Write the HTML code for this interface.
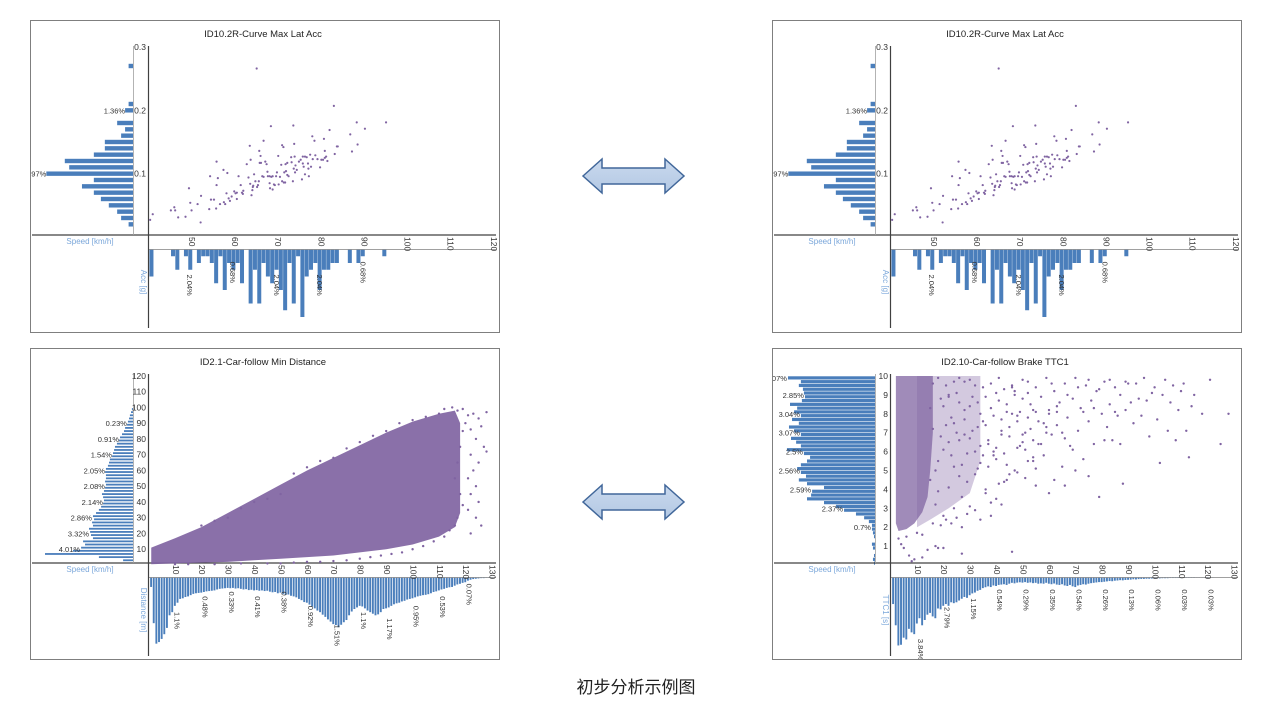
<!DOCTYPE html>
<html><head><meta charset="utf-8">
<style>
html,body{margin:0;padding:0;background:#fff;}
svg{display:block;font-family:"Liberation Sans","Noto Sans CJK SC",sans-serif;}
</style></head>
<body>
<svg id="root" width="1267" height="711" viewBox="0 0 1267 711" xmlns="http://www.w3.org/2000/svg">
<defs>
<clipPath id="c1"><rect x="30.5" y="20.5" width="469" height="312"/></clipPath>
<clipPath id="c2"><rect x="772.5" y="20.5" width="469" height="312"/></clipPath>
<clipPath id="c3"><rect x="30.5" y="348.5" width="469" height="311"/></clipPath>
<clipPath id="c4"><rect x="772.5" y="348.5" width="469" height="311"/></clipPath>
<linearGradient id="ag" x1="0" y1="0" x2="0" y2="1"><stop offset="0" stop-color="#c9d9ee"/><stop offset="1" stop-color="#b3c8e3"/></linearGradient>
</defs>
<polygon points="583,176 602,159 602,168 665,168 665,159 684,176 665,193 665,184 602,184 602,193" fill="url(#ag)" stroke="#41679a" stroke-width="1.5"/>
<polygon points="583,502 602,485 602,494 665,494 665,485 684,502 665,519 665,510 602,510 602,519" fill="url(#ag)" stroke="#41679a" stroke-width="1.5"/>
<text x="636" y="693" text-anchor="middle" font-size="17" fill="#222" font-family="'Noto Sans CJK SC',sans-serif">初步分析示例图</text>
</svg>
<script>
// ===== Curve Max Lat Acc (top panels) =====
const accSpeed=[40.5,41.1,45.3,46.1,46.3,47.0,48.7,49.5,49.8,50.1,51.5,52.2,52.3,54.2,54.4,54.6,55.3,55.9,55.8,55.9,56.2,56.7,57.5,57.6,57.9,58.2,58.4,58.7,59.0,59.4,60.0,60.3,60.6,60.6,61.0,61.5,61.8,62.0,62.1,62.9,63.3,63.6,63.7,63.8,64.0,64.2,64.3,64.4,64.6,64.9,65.2,65.3,65.5,65.7,65.8,65.9,66.1,66.2,66.5,66.8,66.8,67.2,67.5,67.7,67.8,68.2,68.2,68.3,68.5,68.6,68.9,68.9,69.2,69.4,69.7,69.9,70.2,70.3,70.6,70.9,71.1,71.1,71.4,71.5,71.6,71.8,71.9,72.0,72.3,72.3,72.6,73.2,73.3,73.6,73.7,73.8,73.9,74.0,74.1,74.2,74.5,75.0,75.4,75.7,75.9,75.9,76.1,76.4,76.4,76.8,77.1,77.2,77.3,77.6,77.8,78.1,78.2,78.6,78.8,79.3,79.9,80.2,80.6,80.8,81.0,81.0,81.3,81.6,82.1,83.1,83.3,83.8,84.0,86.9,87.3,88.4,88.6,90.3,95.2];
const accG=[.027,.036,.042,.047,.042,.031,.032,.077,.054,.042,.052,.023,.065,.044,.096,.059,.059,.082,.045,.119,.093,.052,.106,.055,.052,.069,.101,.061,.057,.064,.072,.069,.060,.070,.096,.082,.070,.068,.073,.115,.094,.144,.084,.122,.066,.074,.079,.081,.099,.088,.266,.079,.082,.088,.136,.117,.128,.117,.096,.152,.095,.119,.115,.103,.096,.085,.096,.077,.175,.095,.096,.075,.083,.082,.096,.102,.128,.083,.095,.114,.145,.088,.142,.086,.102,.086,.115,.104,.117,.098,.096,.126,.118,.088,.176,.108,.147,.127,.102,.113,.106,.119,.122,.091,.127,.116,.111,.099,.127,.126,.116,.108,.096,.130,.111,.159,.123,.152,.129,.123,.110,.122,.122,.155,.136,.125,.127,.120,.169,.207,.131,.143,.143,.162,.135,.181,.146,.171,.181];
const accBins=[0.02,0.03,0.04,0.05,0.06,0.07,0.08,0.09,0.10,0.11,0.12,0.13,0.14,0.15,0.16,0.17,0.18,0.19,0.20,0.21,0.27];
const accBinPct=[0.10,0.27,0.36,0.55,0.73,0.89,1.16,0.89,1.97,1.45,1.55,0.89,0.64,0.64,0.27,0.18,0.36,0,0.18,0.10,0.10];
const accLeftLabels=[["1.36%",0.20],["1.97%",0.10]];
const spdBins=[40,45,46,48,49,51,52,53,54,55,56,57,58,59,60,61,63,64,65,66,67,68,69,70,71,72,73,74,75,76,77,78,79,80,81,82,83,86,88,89,94];
const spdCounts=[4,1,3,1,3,2,1,1,2,5,1,6,2,3,2,5,8,3,8,2,4,5,3,6,9,2,8,1,10,4,3,2,6,3,3,2,2,2,2,1,1];
const spdLabels=[["2.04%",49.5,3.4],["0.68%",59.5,1.5],["2.04%",69.7,3.4],["2.04%",79.7,3.4],["0.68%",89.7,1.5]];
const accXTicks=[50,60,70,80,90,100,110,120];
const accYTicks=[0.1,0.2,0.3];

// ===== Car-follow Min Distance (bottom-left) =====
const distEnvX=[1,10,20,30,40,50,60,70,80,90,100,110,116,118];
const distEnvHi=[11,17,24,33,42,51,60,68,76,84,91,96,98,90];
const distEnvLo=[0.5,1,1.5,2,3,4,5,6,8,10,13,18,24,33];
const distPtX=[115,117,119,121,120,122,123,124,125,126,127,128,122,125,123,121,124,122,125,121,124,126,122,128,119,118,117,116,118,119,117,116,114,112,108,104,100,96,92,88,84,80,75,70,65,60,55,50,45,35,25,15,10,50,45,40,30,35,20,25,60,55,70,65,75,80,85,90,95,100,105,110,112];
const distPtY=[100,98,99,95,90,86,96,80,93,88,75,97,70,65,60,55,50,45,40,35,30,25,20,72,85,75,65,55,45,38,30,25,22,18,15,12,10,8,7,6,5,4,3,2.5,2,2,1.5,1,1,1,0.5,0.5,0.5,45,42,40,30,36,25,28,62,58,68,66,74,78,82,85,90,92,94,96,99];
const distBinPct=[0,0.45,1.55,4.0,2.73,2.36,2.18,2.27,1.82,1.91,1.95,2.0,1.82,1.86,1.77,1.82,1.68,1.55,1.45,1.36,1.32,1.36,1.41,1.32,1.27,1.23,1.27,1.23,1.23,1.27,1.23,1.14,1.09,1.05,0.95,0.91,0.86,0.82,0.73,0.64,0.59,0.5,0.41,0.36,0.27,0.23,0.18,0.14,0.09,0.05];
const distLeftLabels=[["0.01%",100],["0.23%",90],["0.91%",80],["1.54%",70],["2.05%",60],["2.08%",50],["2.14%",40],["2.86%",30],["3.32%",20],["4.01%",10]];
const distSpdPct=[0.3,1.45,2.1,2.05,1.95,1.8,1.6,1.2,1.1,0.9,0.8,0.68,0.66,0.62,0.6,0.56,0.52,0.5,0.49,0.48,0.46,0.44,0.43,0.42,0.41,0.38,0.36,0.35,0.34,0.33,0.34,0.33,0.35,0.34,0.36,0.38,0.37,0.4,0.39,0.41,0.4,0.42,0.41,0.43,0.42,0.45,0.47,0.46,0.5,0.48,0.52,0.55,0.54,0.58,0.6,0.63,0.68,0.72,0.78,0.8,0.86,0.92,0.98,1.05,1.1,1.18,1.25,1.33,1.4,1.48,1.51,1.58,1.5,1.42,1.35,1.2,1.08,1.0,0.95,0.9,0.92,0.98,1.05,1.1,1.15,1.2,1.17,1.1,1.0,0.98,0.95,0.9,0.85,0.82,0.8,0.76,0.74,0.7,0.68,0.66,0.63,0.6,0.58,0.56,0.55,0.53,0.5,0.46,0.44,0.41,0.38,0.36,0.33,0.31,0.3,0.26,0.22,0.2,0.17,0.15,0.1,0.07,0.05,0.04,0.03,0.02,0.02,0.01,0.01,0.01];
const distSpdLabels=[["1.1%",9.5,1.0],["0.48%",20,0.5],["0.33%",30,0.35],["0.41%",40,0.5],["0.38%",50,0.35],["0.92%",60,0.8],["1.51%",70,1.4],["1.1%",80,1.0],["1.17%",90,1.2],["0.95%",100,0.8],["0.53%",110,0.5],["0.07%",120,0.1]];
const distYTicks=[10,20,30,40,50,60,70,80,90,100,110,120];
const bottomXTicks=[10,20,30,40,50,60,70,80,90,100,110,120,130];

// ===== Car-follow Brake TTC1 (bottom-right) =====
const ttcCoreX=[2,3,6,9,12,14,15,16,16,14,2];
const ttcCoreY=[2.2,1.8,1.9,2.2,2.8,3.6,5.0,7.0,10,10,10];
const ttcBandX=[10,15,22,30,34,34,30,10];
const ttcBandY=[2.0,2.4,3.0,3.8,5.5,10,10,10];
const ttcPtX=[15,16,17,18,19,20,21,22,23,24,25,26,27,28,29,30,31,32,33,34,35,16,17,18,19,20,21,22,23,24,25,26,27,28,29,30,31,32,33,34,35,15,16,18,20,22,24,26,28,30,32,34,17,19,21,23,25,27,29,14,18,20,12,27,22,24,26,28,30,33,35,36,37,38,39,40,41,42,43,44,45,46,47,48,49,50,51,52,53,54,55,56,57,58,59,60,61,62,63,64,65,66,67,68,69,70,71,72,73,74,75,76,77,78,79,80,81,82,83,84,85,86,87,88,89,90,92,94,96,98,100,102,104,106,108,110,112,113,115,118,121,125,128,40,45,50,55,60,62,66,70,75,42,36,38,34,32,41,44,46,48,52,54,57,59,61,63,65,67,69,71,73,75,77,79,81,83,85,87,89,91,93,95,97,99,101,103,105,107,109,111,114,3,5,7,9,4,6,8,10,12,36,37,38,39,40,41,42,43,44,45,46,47,48,49,50,51,52,53,54,55,36,38,40,42,44,46,48,50,52,54,56,58,60,37,39,43,47,51,55,59,63,66];
const ttcPtY=[4.5,7.2,3.2,5.5,8.8,6.1,9.5,4.1,7.8,5.2,9.1,6.6,3.6,8.2,5.9,9.8,7.1,4.8,8.6,6.3,9.4,9.6,5.0,3.9,6.8,2.6,7.4,8.9,5.8,3.0,7.0,8.6,5.3,9.7,4.4,6.7,8.9,6.0,5.1,8.0,7.6,8.3,2.2,9.9,8.4,6.5,9.7,4.7,6.9,3.1,9.5,5.4,1.0,2.1,2.4,2.2,2.5,2.0,2.7,0.8,0.9,0.9,0.4,0.6,9.0,7.5,9.9,7.7,8.4,7.3,5.8,8.9,6.4,9.6,7.9,5.6,8.7,6.9,9.3,4.5,7.3,0.7,9.0,6.2,8.1,9.8,7.0,5.5,8.5,6.6,9.4,7.6,8.9,5.8,9.9,8.0,6.9,9.2,7.4,8.6,5.2,9.6,7.8,6.3,8.8,9.9,7.1,8.3,5.6,9.5,7.6,8.7,6.4,9.2,3.6,8.0,9.7,7.3,8.5,6.6,9.4,7.9,9.0,4.3,8.2,9.6,7.5,8.8,9.9,6.8,9.4,5.4,9.8,8.6,6.6,9.2,7.1,5.7,9.0,8.0,9.8,6.4,8.0,3.5,4.8,6.5,4.2,3.8,4.5,4.2,5.0,4.7,3.2,3.8,2.6,2.4,2.9,9.9,8.1,9.4,7.6,9.1,8.2,6.4,7.3,9.6,8.1,7.0,9.0,6.1,9.4,8.1,9.8,8.3,9.3,6.6,9.8,8.1,6.4,9.7,8.6,9.6,7.9,8.7,9.1,7.7,9.0,7.1,9.5,8.2,9.6,8.4,1.4,0.9,0.5,0.3,1.1,1.5,0.2,1.7,1.6,7.4,5.2,8.3,6.0,9.1,4.3,7.7,5.9,8.5,6.8,9.5,5.0,7.9,6.3,8.8,4.6,9.7,7.2,5.5,8.1,4.0,3.3,6.2,7.1,5.3,8.0,4.9,6.9,7.8,5.7,6.4,7.5,8.2,6.6,5.8,4.4,9.2,6.1,5.1,7.0,8.4,6.7,5.9];
const ttcBinPct=[2.56,2.18,2.24,2.12,2.09,2.06,2.15,2.5,2.29,2.38,2.18,2.44,2.24,2.53,2.38,2.18,2.47,2.32,2.18,2.59,2.09,1.91,2.0,2.18,2.29,2.18,2.03,2.24,2.0,1.5,1.85,1.88,2.0,1.5,1.15,0.91,0.56,0.32,0.18,0.09,0.09,0.06,0.03,0,0.09,0.06,0,0.03,0.06,0.03];
const ttcLeftLabels=[["3.07%",9.9],["2.85%",9.0],["3.04%",8.0],["3.07%",7.0],["2.5%",6.0],["2.56%",5.0],["2.59%",4.0],["2.37%",3.0],["0.7%",2.0]];
const ttcSpdPct=[1.5,2.7,3.84,3.8,3.4,3.5,2.9,3.1,3.2,2.6,2.3,2.7,2.4,2.1,2.0,2.2,2.3,1.75,1.8,1.6,1.5,1.6,1.4,1.45,1.4,1.3,1.2,1.1,1.15,1.0,0.9,0.85,0.75,0.7,0.6,0.55,0.5,0.54,0.45,0.48,0.42,0.4,0.38,0.42,0.35,0.3,0.33,0.29,0.27,0.29,0.26,0.3,0.28,0.32,0.3,0.35,0.33,0.35,0.3,0.35,0.38,0.34,0.4,0.42,0.38,0.45,0.48,0.42,0.5,0.54,0.45,0.42,0.38,0.4,0.35,0.32,0.3,0.28,0.26,0.26,0.24,0.22,0.2,0.21,0.18,0.17,0.15,0.16,0.14,0.13,0.12,0.1,0.11,0.09,0.08,0.08,0.07,0.07,0.06,0.06,0.05,0.05,0.04,0.04,0.04,0.03,0.03,0.03,0.03,0.03,0.02,0.02,0.02,0.02,0.02,0.01,0.01,0.01,0.01,0.03,0.01,0.01];
const ttcSpdLabels=[["3.84%",10,3.3],["2.79%",20,1.5],["1.15%",30,1.0],["0.54%",40,0.5],["0.29%",50,0.5],["0.35%",60,0.5],["0.54%",70,0.5],["0.26%",80,0.5],["0.13%",90,0.5],["0.06%",100,0.5],["0.03%",110,0.5],["0.03%",120,0.5]];
const ttcYTicks=[1,2,3,4,5,6,7,8,9,10];

const NS="http://www.w3.org/2000/svg";
const root=document.getElementById('root');
const PURPLE="#8064A2", BLUE="#4A7EBB", TITLEBLUE="#7BA7DA";
function lin(d0,d1,p0,p1){return v=>p0+(v-d0)*(p1-p0)/(d1-d0);}
function mk(parent,tag,attrs,txt){const e=document.createElementNS(NS,tag);for(const k in attrs)e.setAttribute(k,attrs[k]);if(txt!==undefined)e.textContent=txt;parent.appendChild(e);return e;}

function frame(ox,oy,h,clip,title,name){
  const g=mk(root,'g',{'clip-path':'url(#'+clip+')'});
  
  
  const r=mk(g,'rect',{x:ox+0.5,y:oy+0.5,width:469,height:h,fill:'#fff'});
  
  
  const t=mk(g,'text',{x:ox+233,y:oy+17,'text-anchor':'middle','font-size':9.5,fill:'#222'},title);
  
  
  return g;
}
function border(ox,oy,h){
  const b=mk(root,'rect',{x:ox+0.5,y:oy+0.5,width:469,height:h,fill:'none',stroke:'#7f7f7f','stroke-width':1});
  
  
}
function axes(g,ox,oy,yTitle){
  const a=mk(g,'line',{x1:ox+2,y1:oy+215,x2:ox+466,y2:oy+215,stroke:'#404040','stroke-width':1.3});
  
  
  const a2=mk(g,'line',{x1:ox+118,y1:oy+229.5,x2:ox+466,y2:oy+229.5,stroke:'#808080','stroke-width':0.8});
  
  
  const v=mk(g,'line',{x1:ox+118.5,y1:oy+26,x2:ox+118.5,y2:oy+308,stroke:'#404040','stroke-width':1.2});
  
  
  const v2=mk(g,'line',{x1:ox+103.5,y1:oy+26,x2:ox+103.5,y2:oy+215,stroke:'#a0a0a0','stroke-width':0.8});
  
  
  const st=mk(g,'text',{x:ox+60,y:oy+224,'text-anchor':'middle','font-size':8,fill:TITLEBLUE},'Speed [km/h]');
  
  
  const yt=mk(g,'text',{x:0,y:0,'text-anchor':'middle','font-size':8,fill:TITLEBLUE,transform:'translate('+(ox+111)+','+(oy+262)+') rotate(90)'},yTitle);
  
  
}
function xTicks(g,ticks,xS,oy){
  ticks.forEach(t=>{const e=mk(g,'text',{x:0,y:0,'font-size':8.5,fill:'#333','dominant-baseline':'middle',transform:'translate('+xS(t)+','+(oy+217)+') rotate(90)'},String(t));
    
    });
}
function yTicks(g,ticks,yS,ox){
  ticks.forEach(t=>{const e=mk(g,'text',{x:ox+116,y:yS(t)+3,'text-anchor':'end','font-size':8.5,fill:'#333'},String(t));
    
    });
}
function dots(g,xs,ys,xS,yS,r){
  for(let i=0;i<xs.length;i++){const c=mk(g,'circle',{cx:xS(xs[i]),cy:yS(ys[i]),r:r,fill:PURPLE});
    
    }
}
function rotLabel(g,txt,x,y){
  const e=mk(g,'text',{x:0,y:0,'font-size':7.5,fill:'#333','dominant-baseline':'middle',transform:'translate('+x+','+y+') rotate(90)'},txt);
  
  
}
function leftLabel(g,txt,x,y){
  const e=mk(g,'text',{x:x,y:y+3,'text-anchor':'end','font-size':7.5,fill:'#333'},txt);
  
  
}

function accPanel(ox,oy,clip,name){
  const g=frame(ox,oy,312,clip,'ID10.2R-Curve Max Lat Acc',name);
  const xS=lin(40,120,ox+118,ox+463), yS=lin(0,0.3,oy+217,oy+27);
  accBins.forEach((b,i)=>{const w=accBinPct[i]*44;if(w<=0)return;
    const r=mk(g,'rect',{x:ox+103-w,y:yS(b)-2.2,width:w,height:4.4,fill:BLUE});
    
    });
  spdBins.forEach((s,i)=>{const r=mk(g,'rect',{x:xS(s+0.8)-2,y:oy+229.5,width:4,height:spdCounts[i]*6.75,fill:BLUE});
    
    });
  axes(g,ox,oy,'Acc [g]');
  xTicks(g,accXTicks,xS,oy);
  yTicks(g,accYTicks,yS,ox);
  accLeftLabels.forEach(l=>{const i=accBins.indexOf(l[1]);leftLabel(g,l[0],ox+103-accBinPct[i]*44,yS(l[1]));});
  spdLabels.forEach(l=>rotLabel(g,l[0],xS(l[1]),oy+229.5+l[2]*6.75+2));
  dots(g,accSpeed,accG,xS,yS,1.1);
  border(ox,oy,312);
}
accPanel(30,20,'c1','chart-curve-max-lat-acc-left');
accPanel(772,20,'c2','chart-curve-max-lat-acc-right');

(function(){
  const ox=30,oy=348;
  const g=frame(ox,oy,311,'c3','ID2.1-Car-follow Min Distance','chart-car-follow-min-distance');
  const xS=lin(0,10,ox+118.6,ox+145), yS=lin(0,120,oy+217,oy+27.9);
  distBinPct.forEach((v,i)=>{const w=v*22;if(w<=0)return;const c=1+2*i;
    const r=mk(g,'rect',{x:ox+103-w,y:yS(c)-0.9,width:w,height:1.8,fill:BLUE});
    
    });
  distSpdPct.forEach((v,i)=>{const r=mk(g,'rect',{x:xS(i+1)-1.1,y:oy+229.5,width:1.9,height:v*31.5,fill:BLUE});
    
    });
  axes(g,ox,oy,'Distance [m]');
  xTicks(g,bottomXTicks,xS,oy);
  yTicks(g,distYTicks,yS,ox);
  distLeftLabels.forEach(l=>leftLabel(g,l[0],ox+103-distBinPct[Math.round((l[1]-1)/2)]*22-1,yS(l[1])));
  distSpdLabels.forEach(l=>rotLabel(g,l[0],xS(l[1])+3,oy+229.5+l[2]*31.5+3));
  let pts=distEnvX.map((x,i)=>xS(x)+','+yS(distEnvHi[i]));
  for(let i=distEnvX.length-1;i>=0;i--)pts.push(xS(distEnvX[i])+','+yS(distEnvLo[i]));
  const p=mk(g,'polygon',{points:pts.join(' '),fill:PURPLE,'fill-opacity':0.92});
  
  
  dots(g,distPtX,distPtY,xS,yS,1.2);
  border(ox,oy,311);
})();

(function(){
  const ox=772,oy=348;
  const g=frame(ox,oy,311,'c4','ID2.10-Car-follow Brake TTC1','chart-car-follow-brake-ttc1');
  const xS=lin(0,10,ox+118.6,ox+145), yS=lin(0,10,oy+217,oy+28);
  ttcBinPct.forEach((v,i)=>{const w=v*34;if(w<=0)return;const c=9.9-0.2*i;
    const r=mk(g,'rect',{x:ox+103-w,y:yS(c)-1.6,width:w,height:3.2,fill:BLUE});
    
    });
  ttcSpdPct.forEach((v,i)=>{const r=mk(g,'rect',{x:xS(i+1)-1.1,y:oy+229.5,width:1.9,height:v*17.7,fill:BLUE});
    
    });
  axes(g,ox,oy,'TTC1 [s]');
  xTicks(g,bottomXTicks,xS,oy);
  yTicks(g,ttcYTicks,yS,ox);
  ttcLeftLabels.forEach(l=>{const i=Math.min(49,Math.max(0,Math.round((9.9-l[1])/0.2)));leftLabel(g,l[0],ox+103-ttcBinPct[i]*34-1,yS(l[1]));});
  ttcSpdLabels.forEach(l=>rotLabel(g,l[0],xS(l[1])+3,oy+229.5+l[2]*17.7+3));
  const p2=mk(g,'polygon',{points:ttcBandX.map((x,i)=>xS(x)+','+yS(ttcBandY[i])).join(' '),fill:PURPLE,'fill-opacity':0.35});
  
  
  const p=mk(g,'polygon',{points:ttcCoreX.map((x,i)=>xS(x)+','+yS(ttcCoreY[i])).join(' '),fill:PURPLE,'fill-opacity':0.75});
  
  
  dots(g,ttcPtX,ttcPtY,xS,yS,1.2);
  border(ox,oy,311);
})();
</script>
</body></html>
